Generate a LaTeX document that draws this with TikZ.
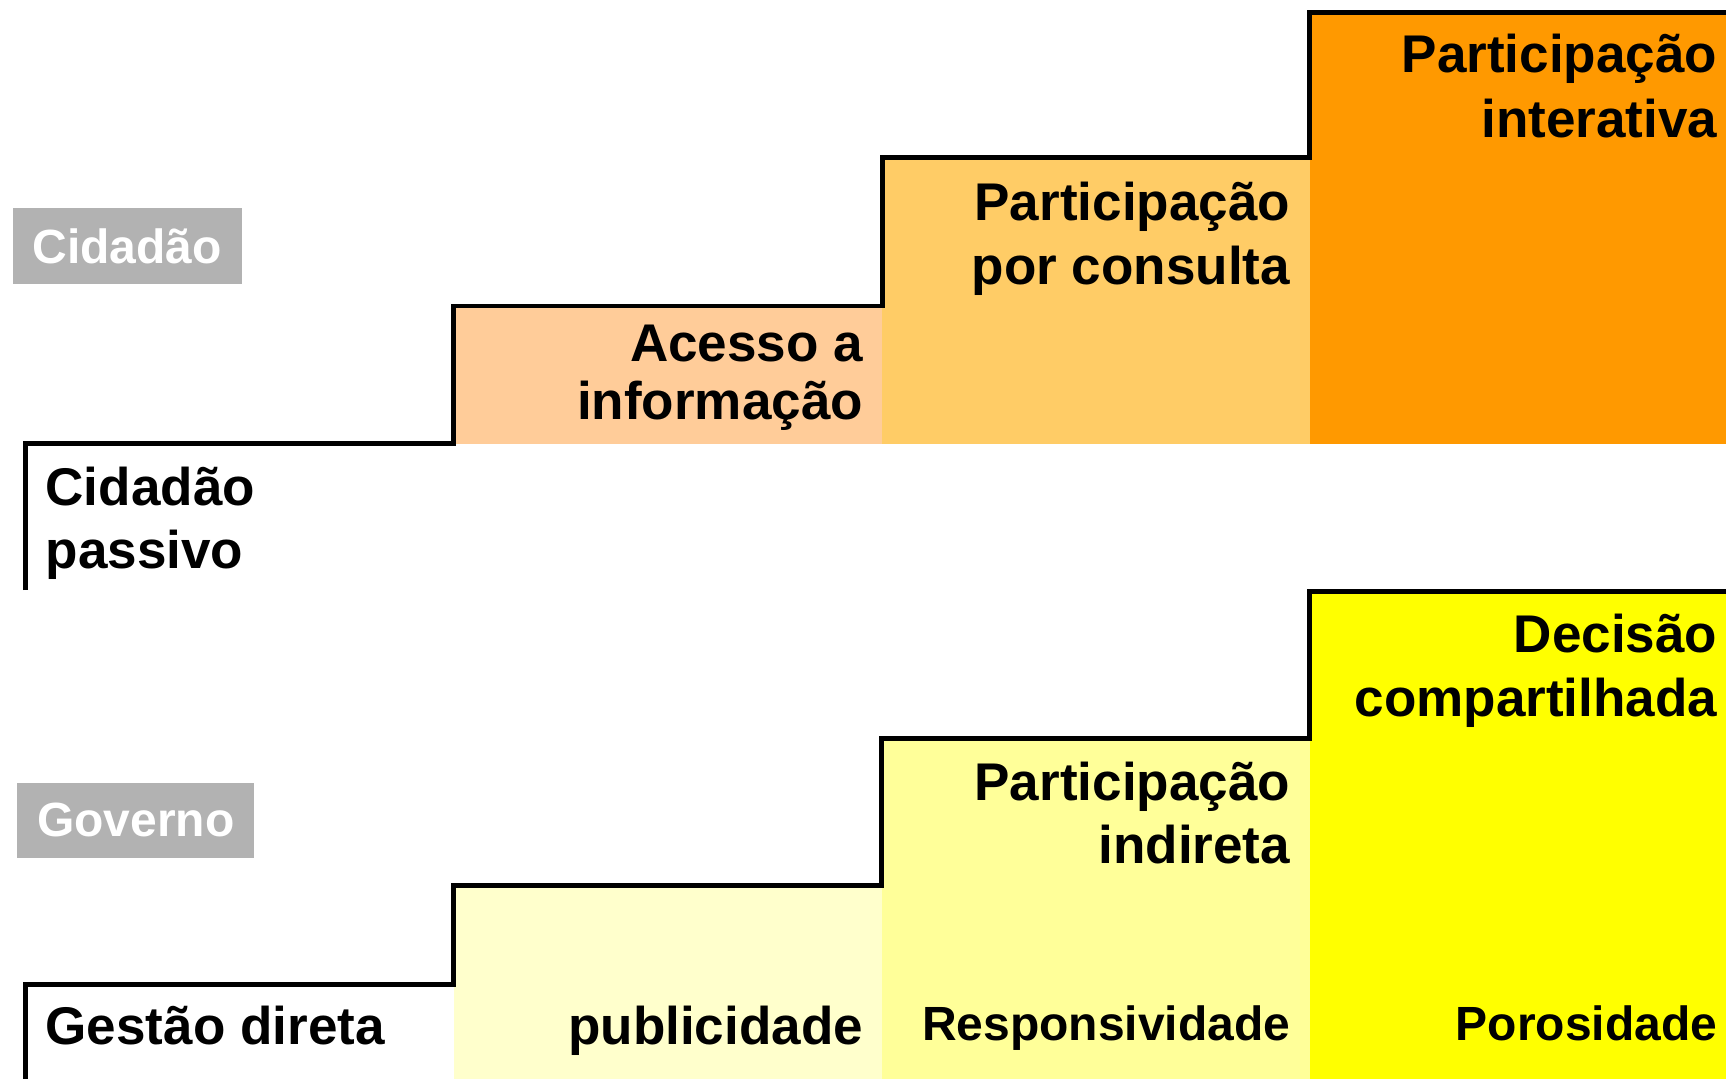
\documentclass[tikz,border=0pt]{standalone}
\usepackage{fontspec}
\setmainfont{Liberation Sans}
\definecolor{peach}{HTML}{FFCC99}
\definecolor{lorange}{HTML}{FFCC66}
\definecolor{dorange}{HTML}{FF9900}
\definecolor{ylight}{HTML}{FFFFCC}
\definecolor{ymid}{HTML}{FFFF99}
\definecolor{ystrong}{HTML}{FFFF00}
\definecolor{boxgray}{HTML}{B2B2B2}
\newcommand{\bigtxt}{\fontsize{48.2}{57}\selectfont\bfseries}
\newcommand{\smalltxt}{\fontsize{43.6}{52}\selectfont\bfseries}
\begin{document}
\begin{tikzpicture}[x=1pt,y=-1pt,
  lblR/.style={inner sep=0pt, outer sep=0pt, anchor=base east, font=\bigtxt},
  lblL/.style={inner sep=0pt, outer sep=0pt, anchor=base west, font=\bigtxt},
  lblS/.style={inner sep=0pt, outer sep=0pt, anchor=base east, font=\smalltxt},
  graybox/.style={fill=boxgray, text=white, font=\smalltxt, inner sep=0pt, outer sep=0pt},
  stair/.style={line width=4.5pt, line join=miter, line cap=butt}]
\useasboundingbox (0,0) rectangle (1568,980);
% ---- top staircase fills
\fill[peach]   (412,278)   rectangle (801.5,403);
\fill[lorange] (801.5,143.5) rectangle (1190,403);
\fill[dorange] (1190,11)   rectangle (1568,403);
% ---- bottom staircase fills
\fill[ylight]  (412,804)   rectangle (801,980);
\fill[ymid]    (801,670.5) rectangle (1190,980);
\fill[ystrong] (1190,537.5) rectangle (1568,980);
% ---- staircase outlines
\draw[stair] (23.5,536) -- (23.5,403) -- (412,403) -- (412,278) -- (801.5,278)
  -- (801.5,143.5) -- (1190,143.5) -- (1190,11) -- (1568,11);
\draw[stair] (23.5,980) -- (23.5,894) -- (412,894) -- (412,804) -- (801,804)
  -- (801,670.5) -- (1190,670.5) -- (1190,537.5) -- (1568,537.5);
% ---- gray labels
\node[graybox, minimum width=208pt, minimum height=68.7pt] (cid) at (115.5,223.4) {Cidadão};
\node[graybox, minimum width=215.3pt, minimum height=68.6pt] (gov) at (123.4,745.3) {Governo};
% ---- top texts
\node[lblR] (pia) at (1560,66.3) {Participação};
\node[lblR] (pib) at (1560,124.5) {interativa};
\node[lblR] (pca) at (1172,200) {Participação};
\node[lblR] (pcb) at (1172,258) {por consulta};
\node[lblR] (aia) at (784,328.6) {Acesso a};
\node[lblR] (aib) at (784,381.5) {informação};
\node[lblL] (cpa) at (41.5,459.5) {Cidadão};
\node[lblL] (cpb) at (41.5,516) {passivo};
% ---- bottom texts
\node[lblR] (dca) at (1560,593) {Decisão};
\node[lblR] (dcb) at (1560,651) {compartilhada};
\node[lblR] (pda) at (1172,727) {Participação};
\node[lblR] (pdb) at (1172,784) {indireta};
\node[lblL] (gd)  at (41.5,949) {Gestão direta};
\node[lblR] (pub) at (784,949) {publicidade};
\node[lblS] (res) at (1172,945) {Responsividade};
\node[lblS] (por) at (1560,945) {Porosidade};
\end{tikzpicture}
\end{document}
